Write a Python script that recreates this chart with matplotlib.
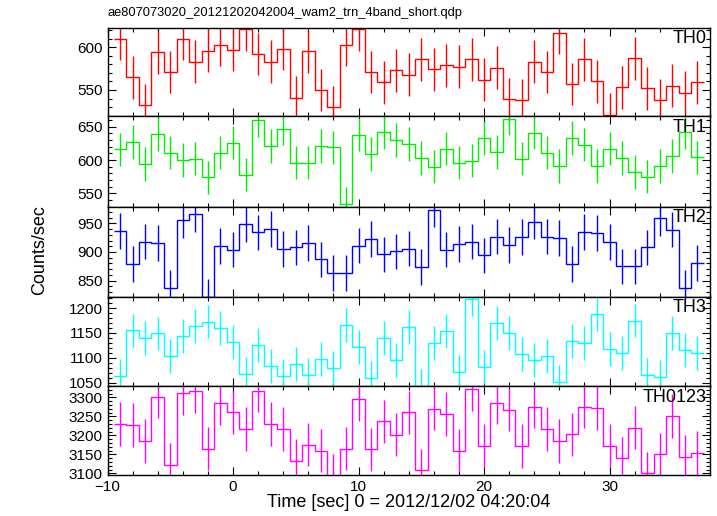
import numpy as np
import matplotlib.pyplot as plt
from matplotlib.ticker import MultipleLocator

plt.rcParams['font.family'] = ['Liberation Sans', 'DejaVu Sans']

# 1 s bins, centres in seconds from 2012/12/02 04:20:04
time_sec = np.arange(-9, 38)

th0 = [610, 565, 532, 594, 571, 610, 583, 596, 603, 597, 621, 592, 583, 598, 541, 595,
       550, 530, 603, 621, 571, 559, 573, 568, 586, 574, 579, 577, 586, 562, 576, 539,
       538, 583, 571, 617, 557, 586, 560, 521, 553, 587, 552, 538, 555, 547, 559]
th1 = [616, 627, 594, 639, 611, 600, 602, 574, 611, 626, 578, 660, 621, 647, 596, 596,
       621, 619, 534, 638, 609, 642, 630, 624, 603, 590, 617, 596, 599, 633, 612, 662,
       602, 641, 611, 591, 633, 623, 591, 617, 603, 582, 575, 591, 606, 642, 604]
th2 = [937, 879, 918, 916, 837, 955, 966, 822, 910, 904, 948, 934, 940, 905, 908, 916,
       887, 863, 863, 911, 923, 896, 901, 906, 874, 974, 904, 914, 918, 894, 927, 912,
       926, 953, 927, 924, 879, 935, 933, 917, 875, 875, 908, 959, 939, 838, 881]
th3 = [1063, 1155, 1140, 1149, 1103, 1144, 1164, 1173, 1160, 1131, 1068, 1125, 1084,
       1063, 1088, 1066, 1098, 1080, 1166, 1122, 1059, 1140, 1096, 1162, 1043, 1129,
       1154, 1072, 1218, 1081, 1170, 1150, 1107, 1096, 1103, 1051, 1133, 1129, 1188,
       1118, 1109, 1175, 1066, 1062, 1150, 1116, 1109]
th0123 = [3230, 3227, 3185, 3302, 3123, 3312, 3317, 3165, 3285, 3261, 3217, 3318, 3230,
          3217, 3133, 3176, 3160, 3093, 3165, 3296, 3163, 3237, 3202, 3261, 3108, 3270,
          3256, 3160, 3322, 3172, 3286, 3268, 3172, 3276, 3217, 3185, 3203, 3276, 3272,
          3173, 3140, 3220, 3100, 3150, 3251, 3144, 3154]

series = [th0, th1, th2, th3, th0123]
names = ['TH0', 'TH1', 'TH2', 'TH3', 'TH0123']
errors = [25, 25, 31, 34, 57]
colors = ['#ff0000', '#00ee00', '#0000ff', '#00ffff', '#ff00ff']
ylims = [(519.6, 623), (530, 666), (822, 979), (1043, 1223), (3095, 3330)]

fig = plt.figure(figsize=(7.17, 5.16), dpi=100)
W, H = 717.0, 516.0
edges_px = [27.5, 116, 206.7, 296.7, 386, 475.3]
left, right = 107.5, 710.0

bin_edges = np.append(time_sec - 0.5, time_sec[-1] + 0.5)

axes = []
for i in range(5):
    top, bot = edges_px[i], edges_px[i + 1]
    ax = fig.add_axes([left / W, 1 - bot / H, (right - left) / W, (bot - top) / H])
    ax.stairs(series[i], bin_edges, baseline=None, color=colors[i], lw=1.0)
    ax.errorbar(time_sec, series[i], yerr=errors[i], fmt='none', ecolor=colors[i], elinewidth=1.0)
    ax.set_xlim(-10, 38)
    ax.set_ylim(*ylims[i])
    ax.xaxis.set_major_locator(MultipleLocator(10))
    ax.xaxis.set_minor_locator(MultipleLocator(2))
    ax.yaxis.set_major_locator(MultipleLocator(50))
    ax.yaxis.set_minor_locator(MultipleLocator(10))
    ax.tick_params(which='both', direction='in', top=True, right=True, labelsize=11, width=0.8)
    ax.tick_params(which='major', length=6)
    ax.tick_params(which='minor', length=3)
    for s in ax.spines.values():
        s.set_linewidth(1.0)
    if i < 4:
        ax.tick_params(labelbottom=False)
    ax.text(0.995, 0.97, names[i], transform=ax.transAxes, ha='right', va='top', fontsize=13)
    axes.append(ax)

axes[4].set_xlabel('Time [sec] 0 = 2012/12/02 04:20:04', fontsize=13, labelpad=0)
fig.text(40 / W, 1 - 250 / H, 'Counts/sec', rotation=90, ha='center', va='center', fontsize=13)
fig.text(left / W, 1 - 13 / H, 'ae807073020_20121202042004_wam2_trn_4band_short.qdp',
         ha='left', va='center', fontsize=9.3)

plt.savefig('out.png', dpi=100)
